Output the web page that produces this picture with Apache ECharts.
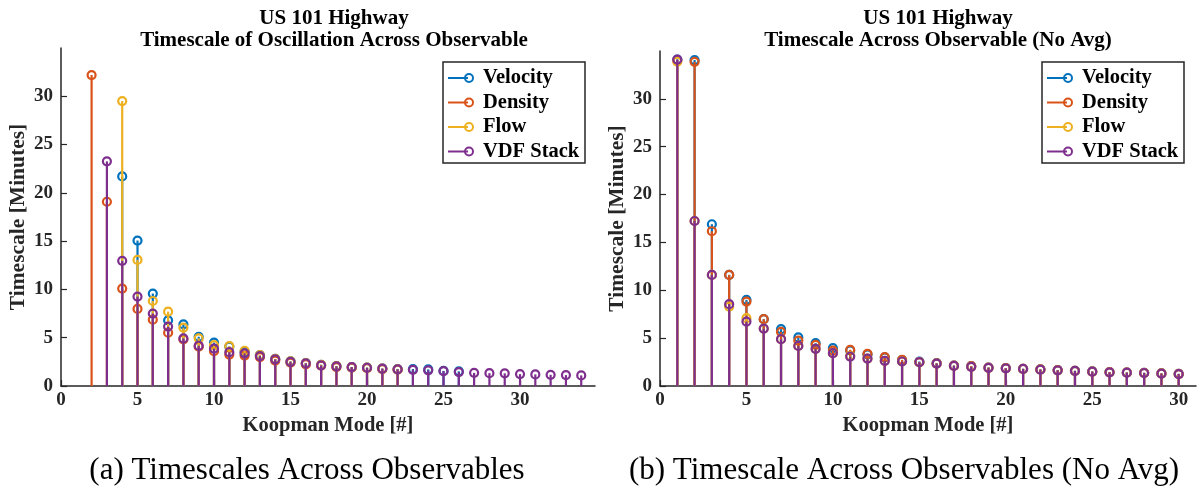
<!DOCTYPE html>
<html>
<head>
<meta charset="utf-8">
<script src="https://cdn.jsdelivr.net/npm/echarts@6/dist/echarts.min.js"></script>
<style>
html,body{margin:0;padding:0;background:#fff;}
#chart{width:1199px;height:494px;}
</style>
</head>
<body>
<div id="chart"></div>
<script>
// ---------- DATA ----------
const seriesNames = ['Velocity', 'Density', 'Flow', 'VDF Stack'];
const seriesColors = ['#0072BD', '#D95319', '#EDB120', '#7E2F8E'];

// Panel (a): Koopman modes 1..34 (null = no stem)
const modesA = [1,2,3,4,5,6,7,8,9,10,11,12,13,14,15,16,17,18,19,20,21,22,23,24,25,26,27,28,29,30,31,32,33,34];
const velocityA = [null,null,null,21.7,15.06,9.57,6.8,6.39,5.1,4.5,4.08,3.55,3.2,2.8,2.55,2.38,2.2,2.06,1.96,1.9,1.81,1.76,1.76,1.72,1.56,1.52,null,null,null,null,null,null,null,null];
const densityA  = [null,32.2,19.08,10.09,7.98,6.87,5.52,4.83,4.07,3.6,3.25,3.15,3.0,2.62,2.42,2.25,2.1,1.96,1.9,1.85,1.75,1.7,null,null,null,null,null,null,null,null,null,null,null,null];
const flowA     = [null,null,null,29.5,13.06,8.8,7.7,6.04,4.93,4.24,4.12,3.65,3.2,2.8,2.55,2.36,2.2,2.05,1.95,1.9,1.8,1.72,null,null,null,null,null,null,null,null,null,null,null,null];
const vdfA      = [null,null,23.26,12.96,9.26,7.5,6.15,4.93,4.17,3.88,3.5,3.38,3.1,2.76,2.5,2.34,2.14,2.03,1.96,1.89,1.79,1.72,1.68,1.62,1.54,1.44,1.36,1.33,1.31,1.23,1.2,1.16,1.13,1.1];

// Panel (b): Koopman modes 1..30
const modesB = [1,2,3,4,5,6,7,8,9,10,11,12,13,14,15,16,17,18,19,20,21,22,23,24,25,26,27,28,29,30];
const velocityB = [34.1,34.05,16.9,11.61,9.0,6.98,5.94,5.07,4.48,3.95,3.71,3.3,3.0,2.7,2.56,2.39,2.14,2.07,1.93,1.87,1.8,1.73,1.66,1.59,1.52,1.45,1.41,1.38,1.31,1.27];
const densityB  = [34.0,33.87,16.17,11.61,8.82,6.98,5.66,4.75,4.3,3.7,3.78,3.36,3.02,2.73,2.5,2.36,2.12,2.07,1.93,1.87,1.8,1.73,1.66,1.59,1.5,1.45,1.41,1.38,1.31,1.27];
const flowB     = [33.9,17.24,11.61,8.3,7.09,6.0,4.89,4.19,3.88,3.43,3.15,2.87,2.63,2.56,2.49,2.34,2.1,2.0,1.9,1.85,1.78,1.7,1.64,1.57,1.5,1.43,1.39,1.36,1.3,1.25];
const vdfB      = [34.1,17.24,11.61,8.55,6.73,6.0,4.89,4.19,3.88,3.43,3.08,2.87,2.63,2.56,2.49,2.34,2.1,2.0,1.9,1.85,1.78,1.7,1.64,1.57,1.5,1.43,1.39,1.36,1.3,1.25];

const xTicksA = [0,5,10,15,20,25,30];
const xTicksB = [0,5,10,15,20,25,30];
const yTicks  = [0,5,10,15,20,25,30];

const titleA = 'US 101 Highway\nTimescale of Oscillation Across Observable';
const titleB = 'US 101 Highway\nTimescale Across Observable (No Avg)';
const captionA = '(a) Timescales Across Observables';
const captionB = '(b) Timescale Across Observables (No Avg)';
const xName = 'Koopman Mode [#]';
const yName = 'Timescale [Minutes]';

// ---------- CHART ----------
const FONT = '"Liberation Serif", "Times New Roman", serif';
const AX = '#262626';

function pairs(modes, vals) {
  const out = [];
  modes.forEach((m, i) => { if (vals[i] != null) out.push([m, vals[i]]); });
  return out;
}
function stemRender(color) {
  return function (params, api) {
    const x = api.value(0), y = api.value(1);
    const p0 = api.coord([x, 0]), p1 = api.coord([x, y]);
    return {
      type: 'group',
      children: [
        { type: 'line', shape: { x1: p0[0], y1: p0[1], x2: p1[0], y2: p1[1] }, style: { stroke: color, lineWidth: 2.2 } },
        { type: 'circle', shape: { cx: p1[0], cy: p1[1], r: 4 }, style: { fill: 'none', stroke: color, lineWidth: 2.2 } }
      ]
    };
  };
}
function xAxisCfg(idx, max, ticks) {
  return {
    type: 'value', gridIndex: idx, min: 0, max: max,
    name: xName, nameLocation: 'middle', nameGap: 22,
    nameTextStyle: { fontFamily: FONT, fontWeight: 'bold', fontSize: 20.5, color: AX },
    axisLine: { show: true, lineStyle: { color: AX, width: 1.5 } },
    axisTick: { show: true, inside: true, length: 6, lineStyle: { color: AX, width: 1.2 }, customValues: ticks },
    axisLabel: { customValues: ticks, margin: 5, fontFamily: FONT, fontWeight: 'bold', fontSize: 19, color: AX },
    splitLine: { show: false }
  };
}
function yAxisCfg(idx, ticks) {
  return {
    type: 'value', gridIndex: idx, min: 0, max: 35,
    name: yName, nameLocation: 'middle', nameGap: 32, nameRotate: 90,
    nameTextStyle: { fontFamily: FONT, fontWeight: 'bold', fontSize: 21.5, color: AX },
    axisLine: { show: true, lineStyle: { color: AX, width: 1.5 } },
    axisTick: { show: true, inside: true, length: 6, lineStyle: { color: AX, width: 1.2 }, customValues: ticks },
    axisLabel: { customValues: ticks, margin: 8, fontFamily: FONT, fontWeight: 'bold', fontSize: 19, color: AX },
    splitLine: { show: false }
  };
}

const dataA = [velocityA, densityA, flowA, vdfA];
const dataB = [velocityB, densityB, flowB, vdfB];
const series = [];
dataA.forEach((vals, k) => series.push({
  name: seriesNames[k], type: 'custom', xAxisIndex: 0, yAxisIndex: 0, clip: false,
  renderItem: stemRender(seriesColors[k]), data: pairs(modesA, vals), z: 2 + k
}));
dataB.forEach((vals, k) => series.push({
  name: seriesNames[k], type: 'custom', xAxisIndex: 1, yAxisIndex: 1, clip: false,
  renderItem: stemRender(seriesColors[k]), data: pairs(modesB, vals), z: 2 + k
}));

function legendGraphic(x0, y0) {
  const els = [{
    type: 'rect', shape: { x: x0, y: y0, width: 142, height: 101 },
    style: { fill: '#fff', stroke: AX, lineWidth: 1.5 }, z: 100
  }];
  seriesNames.forEach((n, i) => {
    const cy = y0 + 16 + i * 24.5;
    els.push({ type: 'line', shape: { x1: x0 + 5, y1: cy, x2: x0 + 25, y2: cy }, style: { stroke: seriesColors[i], lineWidth: 2 }, z: 101 });
    els.push({ type: 'circle', shape: { cx: x0 + 26, cy: cy, r: 4 }, style: { fill: 'none', stroke: seriesColors[i], lineWidth: 2 }, z: 101 });
    els.push({ type: 'text', x: x0 + 40, y: cy, style: { text: n, fontFamily: FONT, fontWeight: 'bold', fontSize: 20.5, fill: '#000', verticalAlign: 'middle', align: 'left' }, z: 101 });
  });
  return els;
}

const option = {
  backgroundColor: '#fff',
  animation: false,
  title: [
    { text: titleA, left: 329, top: 3, textAlign: 'center',
      textStyle: { fontFamily: FONT, fontWeight: 'bold', fontSize: 21, lineHeight: 22, color: '#000' } },
    { text: titleB, left: 933, top: 3, textAlign: 'center',
      textStyle: { fontFamily: FONT, fontWeight: 'bold', fontSize: 21, lineHeight: 22, color: '#000' } },
    { text: captionA, left: 302, top: 450, textAlign: 'center',
      textStyle: { fontFamily: FONT, fontWeight: 'normal', fontSize: 31, color: '#000' } },
    { text: captionB, left: 899, top: 450, textAlign: 'center',
      textStyle: { fontFamily: FONT, fontWeight: 'normal', fontSize: 31, color: '#000' } }
  ],
  grid: [
    { left: 61, top: 48, width: 534, height: 338 },
    { left: 660, top: 51, width: 536, height: 335 }
  ],
  xAxis: [xAxisCfg(0, 34.9, xTicksA), xAxisCfg(1, 31, xTicksB)],
  yAxis: [yAxisCfg(0, yTicks), yAxisCfg(1, yTicks)],
  series: series,
  graphic: legendGraphic(443, 62).concat(legendGraphic(1042, 62))
};

const chart = echarts.init(document.getElementById('chart'), null, { renderer: 'canvas' });
chart.setOption(option);
</script>
</body>
</html>
